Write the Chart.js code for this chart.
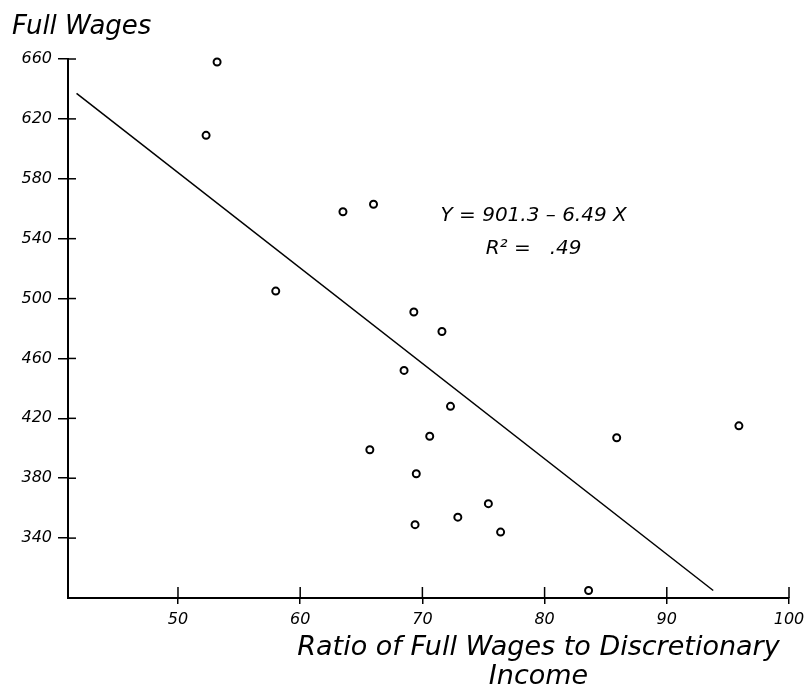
<!DOCTYPE html>
<html>
<head>
<meta charset="utf-8">
<script src="https://cdn.jsdelivr.net/npm/chart.js@4.4.1/dist/chart.umd.min.js"></script>
<style>
  html, body { margin: 0; padding: 0; background: #fff; }
  #wrap { width: 805px; height: 692px; }
</style>
</head>
<body>
<div id="wrap"><canvas id="myChart" width="805" height="692"></canvas></div>
<script>
// ratio of full wages to discretionary income (x) vs full wages (y)
const ratioValues = [53.2, 52.3, 58.0, 63.5, 66.0, 65.7, 69.3, 71.6, 68.5, 72.3,
  70.6, 69.5, 75.4, 72.9, 69.4, 76.4, 83.6, 85.9, 95.9]
const wageValues = [658, 609, 505, 558, 563, 399, 491, 478, 452, 428,
  408, 383, 363, 354, 349, 344, 305, 407, 415]

// fitted line as drawn, ends
const fitX = [41.7, 93.8]
const fitY = [637, 305]

const xTicks = [50, 60, 70, 80, 90, 100]
const yTicks = [340, 380, 420, 460, 500, 540, 580, 620, 660]

const equationText = ['Y = 901.3 \u2013 6.49 X', 'R\u00b2 =   .49']
const equationAt = { x: 79.1, y: [555, 533] }
const xTitleLines = ['Ratio of Full Wages to Discretionary', 'Income']
const xTitleCenter = 79.5

const FONT = "'DejaVu Sans', 'Liberation Sans', sans-serif"

const extras = {
  id: 'extras',
  afterDraw(chart) {
    const { ctx, chartArea, scales } = chart
    const xs = scales.x, ys = scales.y
    ctx.save()
    ctx.strokeStyle = '#000'
    ctx.lineWidth = 1.5
    // inner halves of the tick marks
    yTicks.forEach(v => {
      const py = ys.getPixelForValue(v)
      ctx.beginPath(); ctx.moveTo(chartArea.left, py); ctx.lineTo(chartArea.left + 8, py); ctx.stroke()
    })
    xTicks.forEach(v => {
      const px = xs.getPixelForValue(v)
      ctx.beginPath(); ctx.moveTo(px, chartArea.bottom); ctx.lineTo(px, chartArea.bottom - 11); ctx.stroke()
    })
    ctx.fillStyle = '#000'
    ctx.textAlign = 'center'
    ctx.textBaseline = 'middle'
    ctx.font = 'italic 20px ' + FONT
    equationText.forEach((t, i) => {
      ctx.fillText(t, xs.getPixelForValue(equationAt.x), ys.getPixelForValue(equationAt.y[i]))
    })
    ctx.font = 'italic 27px ' + FONT
    const cx = xs.getPixelForValue(xTitleCenter)
    ctx.fillText(xTitleLines[0], cx, chartArea.bottom + 50)
    ctx.fillText(xTitleLines[1], cx, chartArea.bottom + 79)
    ctx.restore()
  }
}

const ctx = document.getElementById('myChart')
new Chart(ctx, {
  type: 'scatter',
  data: {
    datasets: [
      {
        label: 'observed',
        data: ratioValues.map((x, i) => ({ x, y: wageValues[i] })),
        pointRadius: 3.5,
        pointHoverRadius: 3.5,
        pointBorderWidth: 2,
        pointBorderColor: '#000',
        pointBackgroundColor: '#fff',
        clip: false
      },
      {
        type: 'line',
        label: 'fit',
        data: fitX.map((x, i) => ({ x, y: fitY[i] })),
        borderColor: '#000',
        borderWidth: 1.5,
        pointRadius: 0,
        fill: false
      }
    ]
  },
  options: {
    responsive: false,
    animation: false,
    layout: { padding: { left: 12, right: 16, top: 0, bottom: 0 } },
    plugins: {
      legend: { display: false },
      tooltip: { enabled: false },
      title: {
        display: true,
        text: 'Full Wages',
        align: 'start',
        color: '#000',
        font: { family: FONT, size: 26, style: 'italic', weight: 'normal', lineHeight: 1.2 },
        padding: { top: 12, bottom: 15.8 }
      }
    },
    scales: {
      x: {
        type: 'linear',
        min: 41,
        max: 100,
        afterBuildTicks: s => { s.ticks = xTicks.map(v => ({ value: v })) },
        afterFit: s => { s.height = 94; s.paddingLeft = 0; s.paddingRight = 0 },
        border: { color: '#000', width: 2 },
        grid: { drawOnChartArea: false, drawTicks: true, tickLength: 6, color: '#000', lineWidth: 1.5 },
        ticks: { color: '#000', padding: 6, font: { family: FONT, size: 16, style: 'italic' } }
      },
      y: {
        type: 'linear',
        min: 300,
        max: 660,
        afterBuildTicks: s => { s.ticks = yTicks.map(v => ({ value: v })) },
        afterFit: s => { s.width = 56 },
        border: { color: '#000', width: 2 },
        grid: { drawOnChartArea: false, drawTicks: true, tickLength: 10, color: '#000', lineWidth: 1.5 },
        ticks: { color: '#000', padding: 6, font: { family: FONT, size: 16, style: 'italic' } }
      }
    }
  },
  plugins: [extras]
})
</script>
</body>
</html>
